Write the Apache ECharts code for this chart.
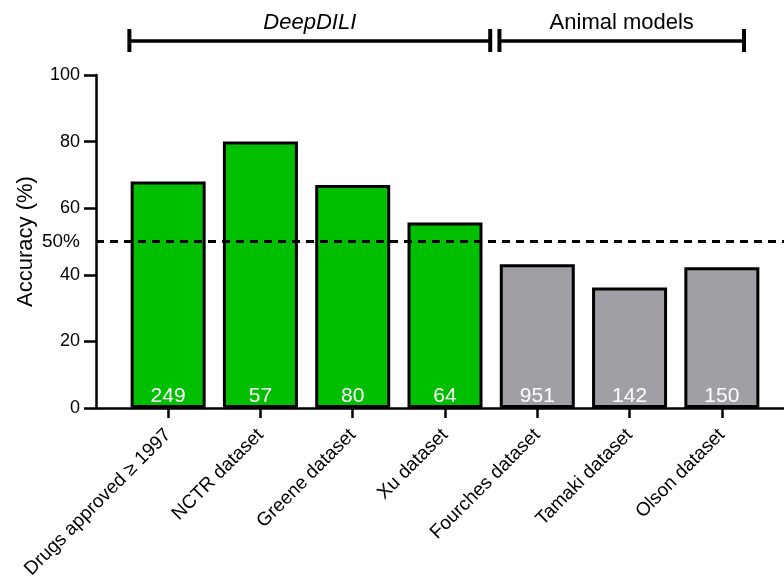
<!DOCTYPE html>
<html>
<head>
<meta charset="utf-8">
<script src="https://cdn.jsdelivr.net/npm/echarts@6/dist/echarts.min.js"></script>
<style>
html,body{margin:0;padding:0;background:#fff;}
#chart{width:784px;height:587px;}
</style>
</head>
<body>
<div id="chart"></div>
<script>
const categories = ['Drugs approved \u2265 1997', 'NCTR dataset', 'Greene dataset', 'Xu dataset', 'Fourches dataset', 'Tamaki dataset', 'Olson dataset'];
const accuracy = [68, 80, 67, 55.7, 43.2, 36.2, 42.3];
const counts = [249, 57, 80, 64, 951, 142, 150];
const groups = ['DeepDILI', 'DeepDILI', 'DeepDILI', 'DeepDILI', 'Animal', 'Animal', 'Animal'];
const yTicks = [0, 20, 40, 60, 80, 100];
const threshold = 50;
const groupTitles = ['DeepDILI', 'Animal models'];

const GREEN = '#00BE00';
const GREY = '#A19FA5';
const FONT = 'Liberation Sans, Arial, sans-serif';

const chart = echarts.init(document.getElementById('chart'));

const barData = accuracy.map((v, i) => ({
  value: v,
  itemStyle: { color: groups[i] === 'DeepDILI' ? GREEN : GREY }
}));

chart.setOption({
  animation: false,
  backgroundColor: '#fff',
  grid: [
    { left: 96, right: 0, top: 75, bottom: 179 },
    { left: 122, right: 16, top: 75, bottom: 179 }
  ],
  xAxis: [
    {
      gridIndex: 0, type: 'value', min: 0, max: 1,
      axisLine: { show: true, lineStyle: { color: '#000', width: 2.5 } },
      axisTick: { show: false }, axisLabel: { show: false }, splitLine: { show: false }
    },
    {
      gridIndex: 1, type: 'category', data: categories,
      axisLine: { show: false },
      axisTick: { show: true, alignWithLabel: true, length: 10, lineStyle: { color: '#000', width: 2.5 } },
      axisLabel: { rotate: 45, margin: 24, fontSize: 19, color: '#000', fontFamily: FONT, interval: 0 }
    }
  ],
  yAxis: [
    {
      gridIndex: 0, type: 'value', min: yTicks[0], max: yTicks[yTicks.length - 1], interval: yTicks[1] - yTicks[0],
      name: 'Accuracy (%)', nameLocation: 'middle', nameGap: 59, nameRotate: 90,
      nameTextStyle: { fontSize: 22, color: '#000', fontFamily: FONT },
      axisLine: { show: true, lineStyle: { color: '#000', width: 2.5 } },
      axisTick: { show: true, length: 12, lineStyle: { color: '#000', width: 2.5 } },
      axisLabel: { margin: 16, fontSize: 18, color: '#000', fontFamily: FONT },
      splitLine: { show: false }
    },
    {
      gridIndex: 1, type: 'value', min: yTicks[0], max: yTicks[yTicks.length - 1],
      show: false, splitLine: { show: false }
    }
  ],
  series: [
    {
      type: 'bar', xAxisIndex: 1, yAxisIndex: 1,
      data: barData, barWidth: 75,
      itemStyle: { borderColor: '#000', borderWidth: 3 },
      label: {
        show: true, position: 'insideBottom', distance: 1,
        color: '#fff', fontSize: 21, fontFamily: FONT,
        formatter: p => String(counts[p.dataIndex])
      },
      z: 2
    },
    {
      type: 'scatter', xAxisIndex: 0, yAxisIndex: 0, data: [], z: 10,
      markLine: {
        silent: true, symbol: 'none',
        lineStyle: { color: '#000', width: 3, type: [8, 6] },
        label: { show: true, position: 'start', distance: 16, formatter: threshold + '%', fontSize: 19, color: '#000', fontFamily: FONT },
        data: [{ yAxis: threshold }]
      }
    }
  ]
});

function drawBrackets() {
  const c = categories.map((_, i) => chart.convertToPixel({ xAxisIndex: 1 }, i));
  const bw = c[1] - c[0];
  const lineY = 41, capTop = 29, capBot = 52, textY = 23;
  const spans = [
    [c[0] - 0.42 * bw, c[3] + 0.49 * bw],
    [c[4] - 0.41 * bw, c[6] + 0.24 * bw]
  ];
  const els = [];
  spans.forEach((s, k) => {
    els.push({ type: 'line', shape: { x1: s[0], y1: lineY, x2: s[1], y2: lineY }, style: { stroke: '#000', lineWidth: 3.3 } });
    els.push({ type: 'line', shape: { x1: s[0], y1: capTop, x2: s[0], y2: capBot }, style: { stroke: '#000', lineWidth: 4 } });
    els.push({ type: 'line', shape: { x1: s[1], y1: capTop, x2: s[1], y2: capBot }, style: { stroke: '#000', lineWidth: 4 } });
    els.push({
      type: 'text', x: (s[0] + s[1]) / 2, y: textY,
      style: {
        text: groupTitles[k], fill: '#000', align: 'center', verticalAlign: 'middle',
        font: (k === 0 ? 'italic ' : '') + '22px ' + FONT
      }
    });
  });
  chart.setOption({ graphic: els });
}
drawBrackets();
</script>
</body>
</html>
